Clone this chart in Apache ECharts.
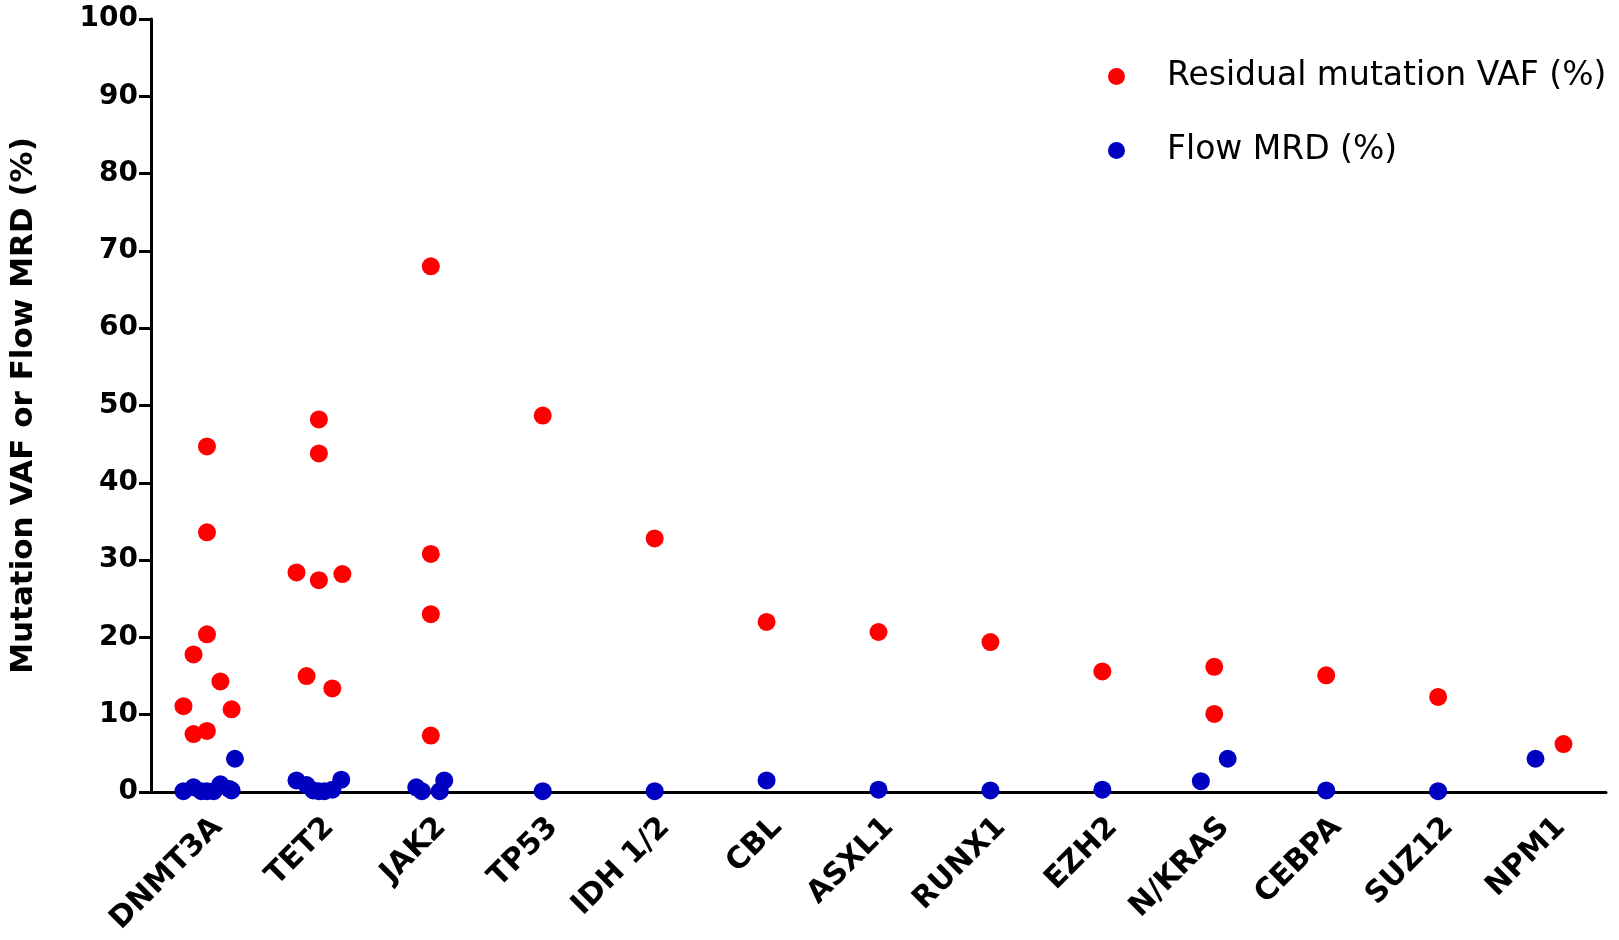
<!DOCTYPE html>
<html lang="en">
<head>
  <meta charset="UTF-8">
  <title>Residual mutation VAF vs flow MRD</title>
  <script src="https://cdn.jsdelivr.net/npm/echarts@6/dist/echarts.min.js"></script>
  <style>
    html, body { margin: 0; padding: 0; width: 100%; height: 100%; background: #fff; }
    #chart { width: 1619px; height: 940px; }
  </style>
</head>
<body>
  <div id="chart"></div>
  <script>
    const genes = ['DNMT3A', 'TET2', 'JAK2', 'TP53', 'IDH 1/2', 'CBL', 'ASXL1',
      'RUNX1', 'EZH2', 'N/KRAS', 'CEBPA', 'SUZ12', 'NPM1']

    // residual mutation VAF (%) per gene, with the horizontal scatter of each dot
    const vafValues = [
      [11.1, 17.8, 7.5, 44.7, 33.6, 20.4, 7.9, 14.3, 10.7],
      [28.4, 15.0, 48.2, 43.8, 27.4, 13.4, 28.2],
      [68.0, 30.8, 23.0, 7.3],
      [48.7], [32.8], [22.0], [20.7], [19.4], [15.6],
      [16.2, 10.1],
      [15.1], [12.3], [6.2]
    ]
    const vafJitter = [
      [-0.21, -0.12, -0.12, 0, 0, 0, 0, 0.12, 0.22],
      [-0.2, -0.11, 0, 0, 0, 0.12, 0.21],
      [0, 0, 0, 0],
      [0], [0], [0], [0], [0], [0],
      [0, 0],
      [0], [0], [0.12]
    ]

    // flow MRD (%) per gene
    const mrdValues = [
      [0.1, 0.6, 0.1, 0.1, 0.1, 1.0, 0.4, 0.2, 4.3],
      [1.5, 0.9, 0.2, 0.1, 0.1, 0.3, 1.6],
      [0.6, 0.1, 0.1, 1.5],
      [0.1], [0.1], [1.5], [0.3], [0.2], [0.3],
      [1.4, 4.3],
      [0.2], [0.1], [4.3]
    ]
    const mrdJitter = [
      [-0.21, -0.12, -0.05, 0, 0.06, 0.12, 0.2, 0.22, 0.25],
      [-0.2, -0.11, -0.05, 0, 0.05, 0.12, 0.2],
      [-0.13, -0.08, 0.08, 0.12],
      [0], [0], [0], [0], [0], [0],
      [-0.12, 0.12],
      [0], [0], [-0.13]
    ]

    function toPoints (values, jitter) {
      const pts = []
      values.forEach((list, g) => {
        list.forEach((v, i) => pts.push([g + jitter[g][i], v]))
      })
      return pts
    }

    const chart = echarts.init(document.getElementById('chart'))
    const black = '#000'
    const boldFont = 'DejaVu Sans, sans-serif'

    chart.setOption({
      animation: false,
      backgroundColor: '#fff',
      grid: { left: 151, right: 13, top: 19, bottom: 148, containLabel: false },
      legend: {
        orient: 'vertical',
        left: 1103,
        top: 55,
        itemWidth: 17,
        itemHeight: 17,
        itemGap: 41,
        icon: 'circle',
        textStyle: {
          fontFamily: boldFont,
          fontSize: 33,
          color: '#000',
          padding: [0, 0, 0, 37]
        },
        data: ['Residual mutation VAF (%)', 'Flow MRD (%)']
      },
      xAxis: [
        {
          type: 'category',
          data: genes,
          boundaryGap: true,
          axisLine: { lineStyle: { color: black, width: 3 } },
          axisTick: { alignWithLabel: true, length: 11, lineStyle: { color: black, width: 3 } },
          axisLabel: {
            rotate: 45,
            margin: 20,
            verticalAlign: 'top',
            color: black,
            fontFamily: boldFont,
            fontWeight: 'bold',
            fontSize: 30
          },
          splitLine: { show: false }
        },
        {
          type: 'value',
          min: -0.5,
          max: 12.5,
          show: false,
          splitLine: { show: false }
        }
      ],
      yAxis: {
        type: 'value',
        min: 0,
        max: 100,
        interval: 10,
        name: 'Mutation VAF or Flow MRD (%)',
        nameLocation: 'middle',
        nameGap: 112,
        nameTextStyle: {
          color: black,
          fontFamily: boldFont,
          fontWeight: 'bold',
          fontSize: 31
        },
        axisLine: { show: true, onZero: false, lineStyle: { color: black, width: 3 } },
        axisTick: { show: true, length: 12, lineStyle: { color: black, width: 3 } },
        axisLabel: {
          margin: 13,
          color: black,
          fontFamily: boldFont,
          fontWeight: 'bold',
          fontSize: 28
        },
        splitLine: { show: false }
      },
      series: [
        {
          name: 'Residual mutation VAF (%)',
          type: 'scatter',
          xAxisIndex: 1,
          symbolSize: 18,
          itemStyle: { color: '#ff0000', opacity: 1 },
          data: toPoints(vafValues, vafJitter)
        },
        {
          name: 'Flow MRD (%)',
          type: 'scatter',
          xAxisIndex: 1,
          symbolSize: 18,
          itemStyle: { color: '#0000c0', opacity: 1 },
          data: toPoints(mrdValues, mrdJitter)
        }
      ]
    })
  </script>
</body>
</html>
